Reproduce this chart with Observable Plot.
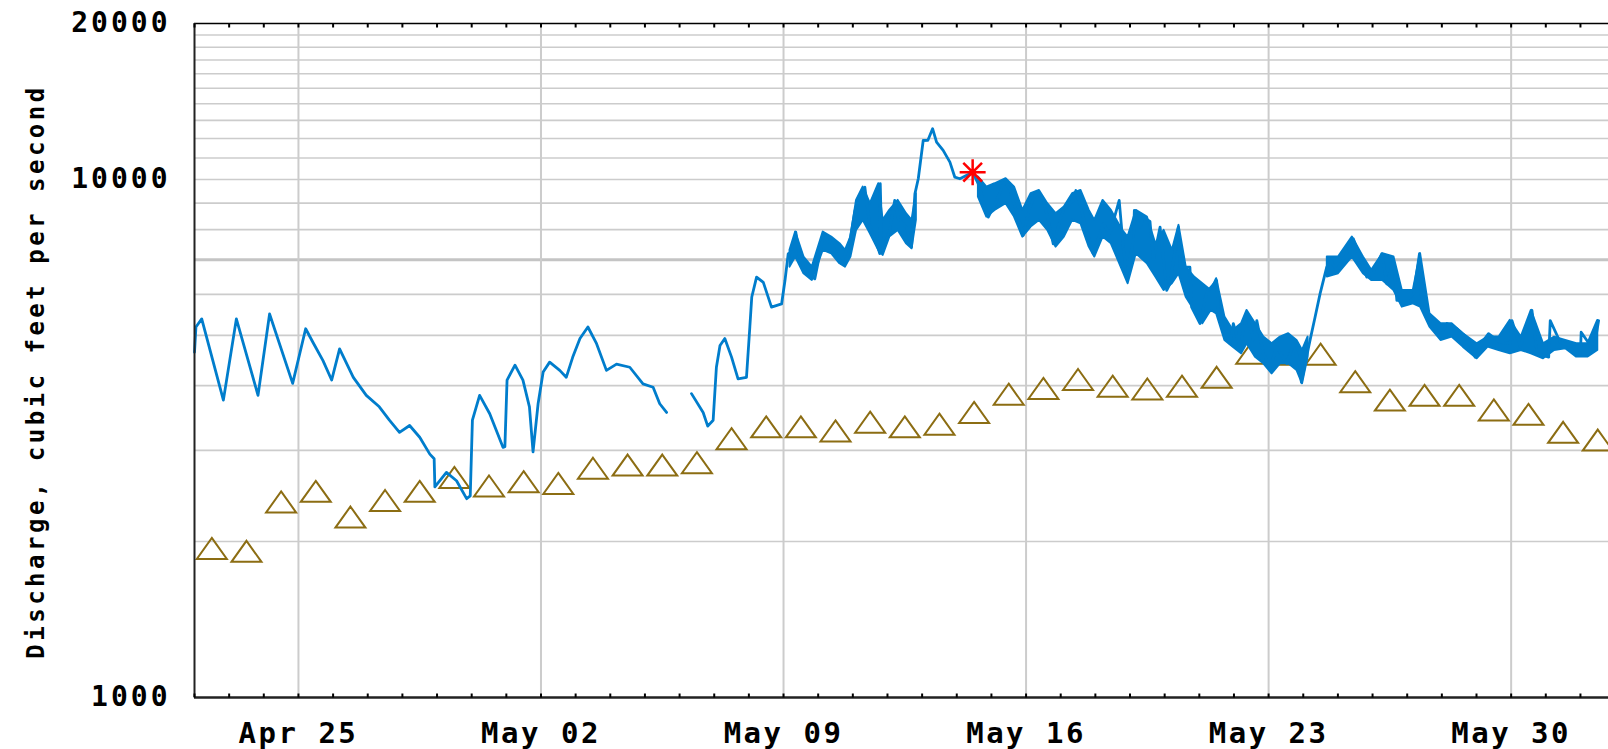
<!DOCTYPE html>
<html><head><meta charset="utf-8">
<script src="https://cdn.jsdelivr.net/npm/d3@7"></script>
<script src="https://cdn.jsdelivr.net/npm/@observablehq/plot@0.6"></script>
<style>
html,body{margin:0;padding:0;background:#fff;}
#chart svg{display:block;}
</style></head><body><div id="chart"></div>
<script>
const YEAR = 2019;

// 15-minute discharge record, cfs; null = gap in record
const flowTimes = [
"04-22T00:00","04-22T01:00","04-22T05:00","04-22T20:00","04-23T05:00","04-23T20:00","04-24T04:00","04-24T20:00",
"04-25T05:00","04-25T10:00","04-25T17:00","04-25T23:00","04-26T04:30","04-26T14:00","04-26T23:00","04-27T08:00",
"04-27T15:00","04-27T22:00","04-28T05:00","04-28T12:00","04-28T19:00","04-28T22:00","04-28T22:30","04-29T06:30",
"04-29T13:30","04-29T20:30","04-29T23:00","04-30T00:30","04-30T05:30","04-30T12:30","04-30T21:40","04-30T23:00",
"05-01T00:30","05-01T06:00","05-01T11:30","05-01T16:00","05-01T18:30","05-01T22:00","05-02T01:30","05-02T06:00",
"05-02T13:00","05-02T17:30","05-02T22:00","05-03T03:00","05-03T08:30","05-03T14:30","05-03T21:20","05-04T04:20",
"05-04T13:30","05-04T22:40","05-05T05:40","05-05T10:15","05-05T15:00","05-05T22:00",
"05-06T08:15","05-06T16:20","05-06T19:30","05-06T23:15","05-07T01:30","05-07T04:00","05-07T07:20","05-07T12:00",
"05-07T16:30","05-07T22:20","05-08T00:40","05-08T02:00","05-08T05:20","05-08T10:00","05-08T15:40","05-08T22:40",
"05-09T01:00","05-09T03:15","05-09T08:00","05-09T08:30","05-09T11:20","05-09T16:00","05-09T21:40","05-10T03:30",
"05-10T09:20","05-10T16:10","05-10T22:00","05-11T01:30","05-11T06:00","05-11T08:20","05-11T11:50","05-11T16:00",
"05-11T18:40","05-11T19:00","05-11T20:00","05-11T23:20","05-12T02:00","05-12T05:00","05-12T07:30","05-12T13:10",
"05-12T16:40","05-12T19:00","05-12T21:20","05-13T00:45","05-13T04:00","05-13T07:15","05-13T10:00","05-13T14:35",
"05-13T19:15","05-13T22:40","05-14T02:10","05-14T11:00","05-14T14:50","05-14T18:20","05-14T21:50","05-15T03:40",
"05-15T09:20","05-15T12:50","05-15T17:25","05-15T22:00","05-16T02:40","05-16T07:20","05-16T12:00","05-16T16:30",
"05-16T18:50","05-17T01:45","05-17T08:40","05-17T10:30","05-17T15:35","05-17T22:30","05-18T05:30","05-18T10:05",
"05-18T16:30","05-18T19:20","05-18T21:40","05-19T02:20","05-19T03:00","05-19T07:00","05-19T09:10","05-19T13:50",
"05-19T16:10","05-19T20:50","05-20T01:25","05-20T03:40","05-20T09:30","05-20T10:40","05-20T17:30","05-20T18:40",
"05-21T00:30","05-21T05:10","05-21T12:00","05-21T13:10","05-21T16:40","05-21T21:15","05-21T23:35","05-22T04:10",
"05-22T08:50","05-22T13:25","05-22T15:50","05-22T20:25","05-23T01:00","05-23T05:40","05-23T12:35","05-23T17:10",
"05-23T21:50","05-23T22:40","05-24T04:40","05-24T08:10","05-24T11:40","05-24T16:15","05-24T18:35","05-24T23:10",
"05-25T06:05","05-25T10:40","05-25T15:20","05-25T20:00","05-26T00:35","05-26T06:25","05-26T09:55","05-26T14:30",
"05-26T16:50","05-26T23:45","05-27T04:25","05-27T08:30","05-27T10:10","05-27T18:10","05-27T22:50","05-28T03:30",
"05-28T10:25","05-28T17:20","05-28T23:05","05-29T04:50","05-29T08:20","05-29T16:25","05-29T23:25","05-30T00:35",
"05-30T06:15","05-30T14:25","05-30T18:00","05-31T02:00","05-31T03:05","05-31T10:00","05-31T19:15","06-01T00:00",
"06-01T00:30","06-01T09:10","06-01T12:35"
];
const flowValues = [
4640,5190,5380,3750,5380,3830,5500,4040,
5150,4850,4470,4100,4710,4150,3830,3640,
3430,3250,3350,3180,2950,2890,2550,2720,
2620,2420,2450,3430,3830,3530,3040,3050,
4100,4380,4100,3640,2980,3690,4250,4440,
4280,4150,4540,4930,5190,4820,4280,4400,
4340,4030,3970,3690,3550,null,
3860,3550,3340,3430,4340,4780,4930,4540,
4120,4150,5190,5930,6480,6330,5670,5750,
6380,7190,7300,7910,7030,6620,6430,7740,
7510,6880,7630,8710,9450,9660,8090,7600,
7190,9810,7500,7630,8090,9110,8400,8090,
7400,9380,10030,11890,11900,12530,11800,11380,
10800,10100,10030,10330,9810,9110,8460,9110,
9960,9520,8710,7800,8840,9450,9110,8090,
7510,8710,9110,9520,8460,7190,8210,7860,
9110,7400,6480,7630,8710,8090,8460,8300,
7000,8090,6110,6290,8090,6770,6770,5670,
5270,6060,6380,5590,5110,4820,5270,4750,
5510,4890,5340,4610,4340,4750,4410,4820,
4340,4060,4890,5420,6020,6770,7000,6670,
7190,7680,7080,6480,6620,7190,6290,7000,
5840,5840,6020,7190,5670,5270,4960,5270,
5150,4960,4540,4890,5040,4850,4820,5340,
4750,5590,4610,4540,5340,4850,4750,4610,
5070,4680,5340
];

// spread of the rapid 15-minute fluctuations (low / high), cfs; null = no visible spread
const spreadTimes = [
"05-09T04:30","05-09T08:25","05-09T14:10","05-09T19:55","05-10T03:30","05-10T09:20","05-10T15:05","05-10T18:55",
"05-10T22:40","05-11T02:35","05-11T07:10","05-11T12:10","05-11T17:55","05-11T21:00","05-12T01:35","05-12T07:25",
"05-12T13:10","05-12T17:00","05-12T20:00","05-13T12:00",
"05-14T15:00","05-14T20:50","05-15T02:30","05-15T10:10","05-15T16:00","05-15T21:45","05-16T03:30","05-16T09:15",
"05-16T15:00","05-16T20:45","05-17T02:30","05-17T08:15","05-17T14:00","05-17T19:45","05-17T23:35","05-18T05:20",
"05-18T11:05","05-18T18:50","05-18T22:40","05-19T04:20","05-19T12:00","05-19T17:50","05-19T23:35","05-20T05:20",
"05-20T09:55","05-20T14:55","05-20T20:40","05-21T02:25","05-21T08:10","05-21T12:00","05-21T17:45","05-21T23:30",
"05-22T05:15","05-22T09:05","05-22T14:55","05-22T20:40","05-23T02:25","05-23T08:10","05-23T13:55","05-23T19:40",
"05-23T23:30","05-24T03:20","05-24T10:00",
"05-24T16:40","05-25T00:25","05-25T10:00","05-25T17:40","05-25T23:25","05-26T07:05","05-26T14:50","05-26T20:35",
"05-27T04:15","05-27T09:15","05-27T15:45","05-27T23:25","05-28T07:05","05-28T14:50","05-29T00:25","05-29T08:00",
"05-29T15:40","05-29T23:25","05-30T07:00","05-30T14:00","05-30T22:25","05-31T06:05","05-31T13:45","05-31T21:25",
"06-01T05:05","06-01T12:00"
];
const spreadLow = [
6774,7082,6577,6385,7295,7188,6875,6774,
7082,7973,8336,7856,7295,7135,7740,7973,
7514,7349,8336,null,
9246,8460,8714,8976,8460,7740,8093,8336,
7973,7404,7740,8336,8213,7404,7082,7740,
7514,6675,6291,7188,6875,6480,6106,6291,
6577,5927,5586,5265,5586,5504,4889,4746,
4608,4817,4540,4407,4215,4407,4407,4278,
4033,4540,null,
6480,6577,7082,6577,6385,6385,6106,5669,
5754,5669,5188,4889,4962,4746,4506,4746,
4676,4608,4676,4608,4506,4676,4711,4540,
4540,4676
];
const spreadHigh = [
7295,7914,7082,6774,7914,7740,7514,7295,
7740,9110,9665,8976,9809,8336,8714,9110,
8586,8336,9384,null,
10104,9665,9809,10030,9665,8714,9384,9523,
8976,8586,8844,9384,9523,8714,8336,9110,
8714,7973,7740,8714,8460,7514,7973,7295,
8153,6774,6480,6291,6106,6432,5423,5111,
5265,5586,5265,4962,4817,4962,5036,4889,
4676,4962,null,
7082,7082,7740,7082,6675,7188,7082,6106,
6106,7188,5504,5265,5265,5036,4817,4962,
4962,5344,4962,5586,4817,4962,4889,4817,
4817,5344
];

// daily median discharge (triangles), cfs, one per day
const medianDays = [
"04-22","04-23","04-24","04-25","04-26","04-27","04-28","04-29","04-30","05-01","05-02",
"05-03","05-04","05-05","05-06","05-07","05-08","05-09","05-10","05-11","05-12","05-13",
"05-14","05-15","05-16","05-17","05-18","05-19","05-20","05-21","05-22","05-23","05-24",
"05-25","05-26","05-27","05-28","05-29","05-30","05-31","06-01"
];
const medianValues = [
1940,1915,2385,2500,2230,2400,2500,2660,2560,2610,2590,
2770,2810,2810,2840,3160,3330,3330,3270,3400,3330,3370,
3550,3850,3950,4110,3990,3940,3990,4150,4620,4600,4600,
4070,3750,3830,3830,3590,3520,3250,3140
];

// highlighted instantaneous value (red asterisk)
const markerTimes = ["05-14T11:00"];
const markerValues = [10330];

const xDomain = ["04-22T00:00", "06-01T19:26"];
const xTickLabels = ["04-25","05-02","05-09","05-16","05-23","05-30"];
const yTickLabels = [1000, 10000, 20000];
const yGridValues = [2000,3000,4000,5000,6000,8000,9000,10000,11000,12000,13000,14000,15000,16000,17000,18000,19000];
const yGridStrong = [7000];
const yTitle = "Discharge, cubic feet per second";

const parse = s => new Date(`${YEAR}-${s.length === 5 ? s + "T00:00" : s}:00Z`);

const flow = flowTimes.map((t, i) => ({t: parse(t), v: flowValues[i]}));
const spread = spreadTimes.map((t, i) => ({t: parse(t), lo: spreadLow[i], hi: spreadHigh[i]}));
const medians = medianDays.map((d, i) => ({t: parse(d + "T12:00"), v: medianValues[i]}));
const markers = markerTimes.map((t, i) => ({t: parse(t), v: markerValues[i]}));
const x0 = parse(xDomain[0]), x1 = parse(xDomain[1]);
const dayTicks = d3.utcDay.range(x0, x1);
const weekTicks = xTickLabels.map(parse);

const triangle = {draw(ctx, size) {
  const r = Math.sqrt(size / Math.PI), h = r * 0.7;
  ctx.moveTo(0, -h); ctx.lineTo(r, h); ctx.lineTo(-r, h); ctx.closePath();
}};
const star = {draw(ctx, size) {
  const r = Math.sqrt(size / Math.PI), d = r * 0.72;
  ctx.moveTo(-r, 0); ctx.lineTo(r, 0);
  ctx.moveTo(0, -r); ctx.lineTo(0, r);
  ctx.moveTo(-d, -d); ctx.lineTo(d, d);
  ctx.moveTo(-d, d); ctx.lineTo(d, -d);
}};
const tickUp = {draw(ctx) { ctx.moveTo(0, 0); ctx.lineTo(0, -4); }};
const tickDown = {draw(ctx) { ctx.moveTo(0, 0); ctx.lineTo(0, 4); }};

const FONT = "'DejaVu Sans Mono', 'Liberation Mono', monospace";
const BLUE = "#007dcc";

const chart = Plot.plot({
  width: 1608, height: 749,
  marginLeft: 194, marginRight: 0, marginTop: 23, marginBottom: 52,
  x: {type: "utc", domain: [x0, x1], axis: null},
  y: {type: "log", domain: [1000, 20000], axis: null},
  style: {fontFamily: FONT, background: "#ffffff", overflow: "visible"},
  marks: [
    Plot.ruleY(yGridValues, {stroke: "#cccccc", strokeWidth: 1.6}),
    Plot.ruleY(yGridStrong, {stroke: "#c4c4c4", strokeWidth: 3}),
    Plot.ruleX(weekTicks, {stroke: "#cccccc", strokeWidth: 2}),
    Plot.dot(medians, {x: "t", y: "v", symbol: triangle, r: 15, stroke: "#8c6d13", strokeWidth: 2, fill: "none"}),
    Plot.areaY(spread, {x: "t", y1: "lo", y2: "hi", fill: BLUE, stroke: BLUE, strokeWidth: 2}),
    Plot.line(flow, {x: "t", y: "v", stroke: BLUE, strokeWidth: 2.8, strokeLinejoin: "round"}),
    Plot.dot(markers, {x: "t", y: "v", symbol: star, r: 13, stroke: "#ff0000", strokeWidth: 2.5}),
    Plot.ruleY([20000], {stroke: "#000", strokeWidth: 1.5}),
    Plot.ruleY([1000], {stroke: "#222", strokeWidth: 2.5}),
    Plot.ruleX([x0], {stroke: "#222", strokeWidth: 2}),
    Plot.dot(dayTicks, {x: d => d, frameAnchor: "bottom", symbol: tickUp, stroke: "#000", strokeWidth: 2}),
    Plot.dot(dayTicks, {x: d => d, frameAnchor: "top", symbol: tickDown, stroke: "#000", strokeWidth: 2}),
    Plot.axisY(yTickLabels, {anchor: "left", label: null, tickSize: 0, tickPadding: 24, tickFormat: d => String(d),
      fontSize: 28, fontWeight: "bold", fill: "#000"}),
    Plot.axisX(weekTicks, {anchor: "bottom", label: null, tickSize: 0, tickPadding: 25, tickFormat: d3.utcFormat("%b %d"),
      fontSize: 29, fontWeight: "bold", fill: "#000"}),
    Plot.text([yTitle], {text: d => d, frameAnchor: "left", textAnchor: "middle", dx: -158, dy: 11, rotate: -90,
      fontSize: 24, fontWeight: "bold", fill: "#000"})
  ]
});

document.getElementById("chart").appendChild(chart);
const svg = d3.select(chart);
svg.selectAll("g[aria-label='y-axis tick label'] text").attr("letter-spacing", "3px");
svg.selectAll("g[aria-label='x-axis tick label'] text").attr("letter-spacing", "2.5px");
svg.selectAll("g[aria-label='text'] text").attr("letter-spacing", "3.5px");
</script>
</body></html>
